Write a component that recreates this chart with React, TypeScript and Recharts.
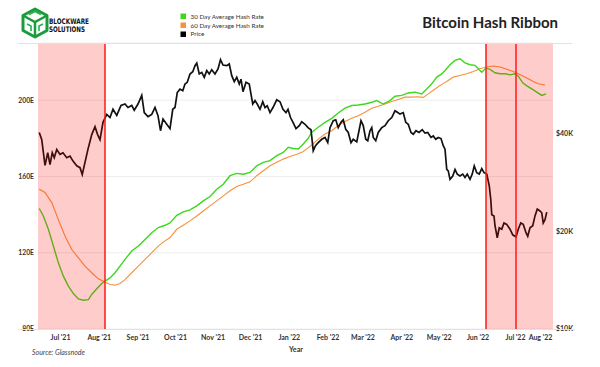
import React from 'react';
import { LineChart, Line, XAxis, YAxis, CartesianGrid, ReferenceArea, ReferenceLine } from 'recharts';

// x values are days counted from 13 Jun 2021
const priceDays = [1,3,5.6,7.8,9.6,11.4,13,15,17.6,20,23,25.6,28,31,33.6,35.4,37.6,40,43,45.6,47.7,49.6,52,55,57.6,60,63,66.4,69.6,72,75,77,80,83,85,88,91,93.6,96,98,100,103,105.6,107.8,109.6,111.4,113.6,115.8,117.6,119.4,121.6,123.8,125.6,127,129,131,133,135,137,139,141.6,144,146,148,151,153,155,157,159,161,162.4,164,166.4,169,171.8,173.6,175.4,177.6,179.8,181.6,183.4,185.6,188,191,193.6,196,198.4,200,202,204,206.4,209,211,213.6,216,218.4,220.2,222,224.2,227,229.6,231.8,233.6,236.2,238.2,240.2,242.4,244.2,246.2,248.2,250.4,252.2,255,256.8,258.4,260.2,262.2,263.8,265.6,267,268.2,270.2,272.2,275,277.6,280.2,283,285.6,287.8,289.6,292.2,294.2,296.2,298.4,300.2,302.4,304.8,307.4,309.6,311.8,314.4,316.2,318.2,320.2,322.4,324.2,325.6,327,328.2,329.6,331.8,333.6,335.4,337.6,339.8,341.6,343.4,345.6,347.4,349,351,353,355,356.8,359,361,362.2,363,364.8,365.6,367.4,369,371,372.8,375,377.6,379.8,382.4,384.2,386.2,388.2,390.4,391.8,393.6,395.8,397.6,399.4,401.6,403,404.2,405.6,407];
const priceK = [40.3,38.3,31.9,34.9,32.1,34.9,33.7,35.7,34.5,34.9,33.7,34.1,32.9,31.8,31.4,29.9,32.6,35.8,39.7,42.0,39.7,38.3,43.3,45.8,44.8,47.5,45.5,48.8,49.3,48.1,48.8,47.2,49.3,52.4,46.4,45.1,45.8,48.1,45.4,40.8,44.3,42.7,41.4,47.5,48.1,53.5,54.8,54.2,56.8,57.5,61.0,62.0,64.7,65.9,61.0,61.7,59.6,62.5,61.0,62.9,61.0,63.2,67.5,65.0,64.7,65.5,60.3,57.8,59.6,56.8,58.8,53.8,57.5,56.8,49.3,50.5,49.3,47.5,50.1,48.1,48.7,46.4,48.1,50.8,50.1,47.5,46.4,47.5,44.8,43.3,41.4,42.3,43.5,42.7,41.7,41.1,35.4,36.7,37.5,38.4,38.9,37.5,41.7,43.8,44.1,41.7,43.3,44.1,41.2,40.3,37.5,38.4,37.7,40.8,43.8,42.3,38.4,38.0,40.8,41.7,38.9,38.0,40.3,41.7,42.3,43.8,44.8,47.0,46.4,45.9,46.4,43.3,42.7,40.3,39.8,40.8,40.3,41.1,40.1,40.3,38.9,39.3,38.4,38.9,38.6,36.7,35.8,31.0,30.7,28.9,29.6,31.0,30.0,29.6,30.0,29.3,30.0,28.9,30.0,31.8,30.3,30.0,31.2,30.3,30.0,27.6,25.1,22.5,22.3,20.8,19.1,20.5,20.3,21.2,21.0,20.3,19.5,19.2,20.3,21.2,21.0,19.8,19.3,20.5,20.8,22.3,23.4,23.1,22.8,21.2,21.7,22.9];

const hash30Days = [1,4.3,8.3,12.3,16.3,20.3,24.3,28.3,32.3,36.3,40.3,43,47,51,53.6,57.6,61.6,65.6,69.6,75,80.3,85.6,91,96.3,101.6,105.6,111,116.2,121.6,127,132.2,137.6,143,148.2,153.6,159,164.2,169.6,175,180.2,185.6,191,196.2,200.2,204.2,208.2,212.2,216.2,219,224.2,229.6,235,240.2,245.6,251,256.2,261.6,267,271,276.2,281.6,285.6,291,296.2,301.6,307,311,315,319,323,325.6,329.6,333.6,337.6,341.6,345.6,349.6,352.2,355,358.4,361.6,365.6,369.6,373.6,377.6,381.6,384.2,387.8,391.4,395,399,403,406.4];
const hash30 = [143.2,139.3,132.3,123.5,114.7,107.7,102.5,98.6,95.8,95.1,95.4,98.1,101.1,103.9,105.1,106.8,109.5,113,116.5,120.9,123.5,127,130.5,133.2,134.4,135.6,139.6,141.4,142.5,144.6,147.2,149.5,153.3,155.9,160.4,161.6,161.2,162.1,165.6,167.4,168.3,170.9,172.6,175.3,174.7,174.4,177,180,183.2,185.8,188.4,190.5,193.3,195.8,197.2,197.5,198,198.9,199.8,198,199.8,202.1,202.5,203.8,204.2,203.3,205.9,208.6,212.1,213.8,215.6,218.6,220.9,221.7,219.6,218.6,218.3,216.5,214.7,216.8,216.2,214.4,213.9,213.9,213.3,213.9,212.6,209.1,207.4,205.9,204.2,202.5,203.3];

const hash60Days = [1,5.6,11,16.2,21.6,27,32.2,37.6,43,48.2,53.6,57.6,61.6,65.6,69.6,75,80.2,85.6,91,96.2,101.6,105.6,111,116.2,121.6,127,132.2,137.6,143,148.2,153.6,159,164.2,169.6,175,180.2,185.6,191,196.2,201.6,207,212,216,219,224.2,229.6,235,240.2,245.6,251,256.2,261.6,267,272.2,277.6,283,288.2,293.6,299,304.2,308.2,312.2,317.6,323,327,332.2,337.6,343,348.2,353.6,359,364.2,369.6,375,380.2,384.2,388.2,392.2,396.2,400.2,405.6];
const hash60 = [153.3,151.6,146.3,137.5,128.8,121.7,117.4,113,109.5,106.3,104.6,103.3,103,103.9,105.9,109.5,113,116.5,120,123.5,126.2,128,132.3,134.4,136.7,139.3,141.9,144.6,147.2,149.8,152.5,154.7,155.9,157.2,160.4,163,165.6,167.4,169.1,170.5,171.7,173,175,176.5,179.6,182.3,184,186.7,188.8,190.5,191.9,193.7,195.8,196.8,198,199.3,200.4,201.6,201.6,201.8,201.5,203.3,205.9,208.3,209.8,212.1,213,213.9,215.1,216.5,217.4,217.9,217.4,216.2,215.1,213.9,212.6,211.2,209.8,208.6,208];

// hash ribbon signal dates (days)
const signalDays = [53.6, 358.4, 382.4];

const monthTickDays = [18, 49, 80, 110, 140, 170, 201, 232, 260, 291, 321, 352, 382, 402];
const monthLabels = ["Jul '21", "Aug '21", "Sep '21", "Oct '21", "Nov '21", "Dec '21", "Jan '22", "Feb '22", "Mar '22", "Apr '22", "May '22", "Jun '22", "Jul '22", "Aug '22"];
const hashTicks = [80, 120, 160, 200];
const priceTicks = [10, 20, 40];

const priceData = priceDays.map((d, i) => ({ day: d, price: priceK[i] }));
const h30Data = hash30Days.map((d, i) => ({ day: d, h30: hash30[i] }));
const h60Data = hash60Days.map((d, i) => ({ day: d, h60: hash60[i] }));

const FONT = 'Lato, "Open Sans", sans-serif';
const GREEN = '#3cd81e';
const ORANGE = '#f7923a';

export default function App() {
  const areaZ: any = { zIndex: 1000 };
  return (
    <div style={{ position: 'absolute', left: 0, top: 0, width: 600, height: 367, background: '#fff' }}>
      <LineChart width={600} height={367} margin={{ top: 43, right: 0, bottom: 0, left: 0 }}>
        <CartesianGrid yAxisId="left" vertical={false} stroke="#eeeeee" />
        <XAxis
          type="number"
          dataKey="day"
          domain={[0, 412]}
          allowDataOverflow
          ticks={monthTickDays}
          interval={0}
          tickFormatter={(v: number) => monthLabels[monthTickDays.indexOf(v)]}
          tick={{ fontSize: 7, fill: '#333', fontWeight: 700, fontFamily: FONT }}
          tickLine={false}
          axisLine={false}
          tickSize={0}
          tickMargin={6}
          height={38}
        />
        <YAxis
          yAxisId="left"
          type="number"
          domain={[80, 230]}
          allowDataOverflow
          ticks={hashTicks}
          interval={0}
          tickFormatter={(v: number) => `${v}E`}
          tick={{ fontSize: 6.8, fill: '#333', fontWeight: 700, fontFamily: FONT }}
          tickLine={false}
          axisLine={false}
          tickSize={0}
          tickMargin={4}
          width={38}
        />
        <YAxis
          yAxisId="right"
          orientation="right"
          type="number"
          scale="log"
          domain={[10, 76]}
          allowDataOverflow
          ticks={priceTicks}
          interval={0}
          tickFormatter={(v: number) => `$${v}K`}
          tick={{ fontSize: 7, fill: '#333', fontWeight: 700, fontFamily: FONT }}
          tickLine={false}
          axisLine={false}
          tickSize={0}
          tickMargin={3}
          width={47}
        />
        <Line data={h60Data} dataKey="h60" yAxisId="left" type="linear" stroke={ORANGE} strokeWidth={1.1} dot={false} isAnimationActive={false} />
        <Line data={h30Data} dataKey="h30" yAxisId="left" type="linear" stroke={GREEN} strokeWidth={1.4} dot={false} isAnimationActive={false} />
        <Line data={priceData} dataKey="price" yAxisId="right" type="linear" stroke="#111" strokeWidth={1.7} dot={false} isAnimationActive={false} />
        <ReferenceArea {...areaZ} yAxisId="left" x1={0} x2={signalDays[0]} y1={80} y2={230} fill="#ff0000" fillOpacity={0.2} stroke="none" />
        <ReferenceArea {...areaZ} yAxisId="left" x1={signalDays[1]} x2={412} y1={80} y2={230} fill="#ff0000" fillOpacity={0.2} stroke="none" />
        {signalDays.map((d) => (
          <ReferenceLine {...areaZ} key={d} yAxisId="left" x={d} stroke="#ff1a1a" strokeWidth={1.5} />
        ))}
      </LineChart>
      <svg width={600} height={367} style={{ position: 'absolute', left: 0, top: 0, pointerEvents: 'none' }}>
        <line x1={18} x2={572} y1={43.5} y2={43.5} stroke="#e2e2e2" strokeWidth={1} />
        <line x1={18} x2={575} y1={329.5} y2={329.5} stroke="#e2e2e2" strokeWidth={1} />
        {/* logo */}
        <g>
          <polygon points="35,9 47,15.5 47,30.5 35,37 23,30.5 23,15.5" fill="none" stroke="#1a9b3c" strokeWidth={3} strokeLinejoin="round" />
          <polyline points="23,15.5 35,22 47,15.5" fill="none" stroke="#1a9b3c" strokeWidth={2.5} />
          <line x1={35} y1={22} x2={35} y2={37} stroke="#1a9b3c" strokeWidth={2.5} />
          <polyline points="27,24 31,26 31,31" fill="none" stroke="#22b04a" strokeWidth={1.6} />
          <polyline points="43,24 39,26 39,31" fill="none" stroke="#22b04a" strokeWidth={1.6} />
          <polyline points="29,14.5 35,11.5 41,14.5" fill="none" stroke="#22b04a" strokeWidth={1.6} />
        </g>
        <text x={49} y={24} fontSize={7.6} fontWeight={800} fontFamily='"DejaVu Sans Condensed", "DejaVu Sans", sans-serif' fill="#111" textLength={40} lengthAdjust="spacingAndGlyphs">BLOCKWARE</text>
        <text x={49} y={31.5} fontSize={7.6} fontWeight={800} fontFamily='"DejaVu Sans Condensed", "DejaVu Sans", sans-serif' fill="#111" textLength={36} lengthAdjust="spacingAndGlyphs">SOLUTIONS</text>
        {/* legend */}
        <rect x={180.5} y={13.5} width={5.5} height={5.5} fill={GREEN} />
        <rect x={180.5} y={22.5} width={5.5} height={5.5} fill={ORANGE} />
        <rect x={180.5} y={31.5} width={5.5} height={5.5} fill="#000" />
        <text x={190.5} y={18.6} fontSize={6.3} fontFamily={FONT} fill="#333">30 Day Average Hash Rate</text>
        <text x={190.5} y={27.6} fontSize={6.3} fontFamily={FONT} fill="#333">60 Day Average Hash Rate</text>
        <text x={190.5} y={36.4} fontSize={6.3} fontFamily={FONT} fill="#333">Price</text>
        {/* title */}
        <text x={558} y={27.5} textAnchor="end" fontSize={15} fontWeight={700} fontFamily={FONT} fill="#222">Bitcoin Hash Ribbon</text>
        {/* axis title and source */}
        <text x={296} y={352} textAnchor="middle" fontSize={7.2} fontWeight={700} fontFamily={FONT} fill="#333">Year</text>
        <text x={32} y={355} fontSize={7} fontStyle="italic" fontFamily={FONT} fill="#444">Source: Glassnode</text>
      </svg>
    </div>
  );
}
